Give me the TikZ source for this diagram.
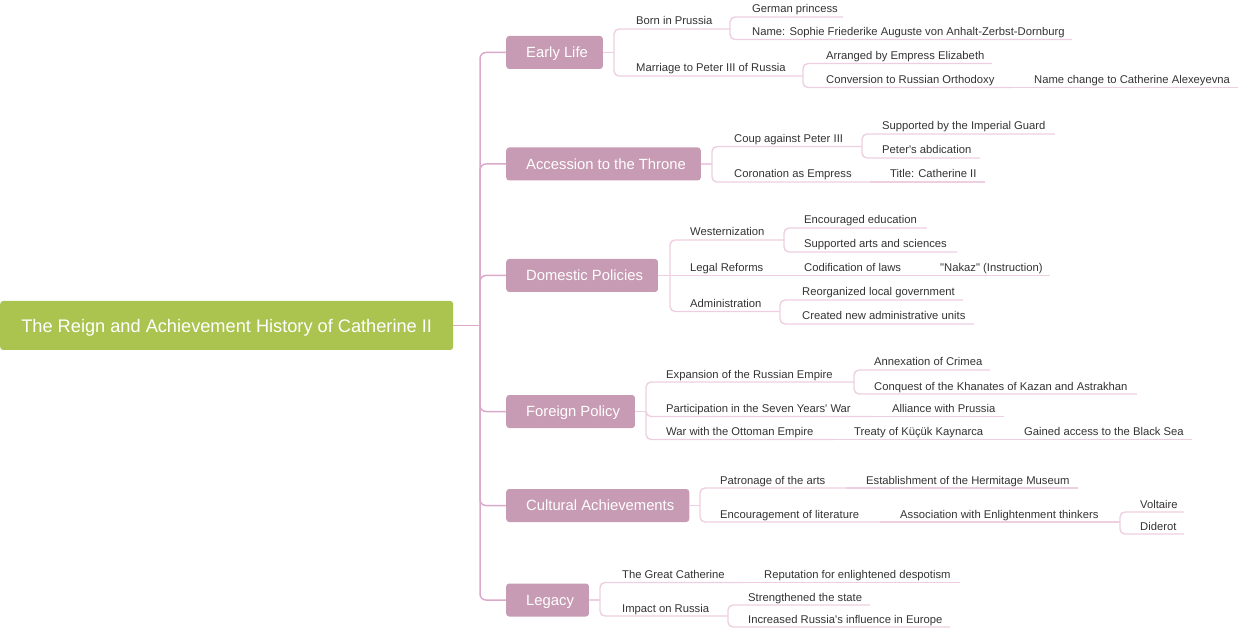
\documentclass[tikz,border=0pt]{standalone}
\usepackage{fontspec}
\newfontfamily\mf{Liberation Sans}
\definecolor{rootgreen}{HTML}{AAC44F}
\definecolor{boxpink}{HTML}{C79BB3}
\definecolor{trunkpink}{HTML}{DBA9CA}
\definecolor{linepink}{HTML}{EDCFE1}
\definecolor{txt}{HTML}{333333}
\tikzset{
  rootbox/.style={fill=rootgreen, text=white, rounded corners=3pt, anchor=west,
    minimum width=453pt, minimum height=49pt, inner sep=0pt, text depth=0pt,
    font=\mf\fontsize{18.2}{21}\selectfont},
  mainbox/.style={fill=boxpink, text=white, rounded corners=3pt, anchor=west,
    minimum height=33pt, inner xsep=15pt, inner ysep=0pt, text depth=0pt,
    font=\mf\fontsize{14.8}{18}\selectfont},
  leaf/.style={anchor=base west, inner sep=0pt, text=txt, font=\mf\fontsize{11.25}{13}\selectfont},
  trunk/.style={draw=trunkpink, line width=1.5pt, rounded corners=6pt},
  leafline/.style={draw=linepink, line width=1.4pt, rounded corners=5pt},
}
\newcommand\bx[1]{\hspace*{5pt}#1}
\newcommand\leafnode[6]{%
  \node[leaf] (#1) at (#3,#4-4) {#6};
  \coordinate (#1-end) at (#5,#4);
  \draw[leafline] (#2) |- (#1-end);
}
\newcommand\chainnode[6]{%
  \node[leaf] (#1) at (#3,#4-4) {#6};
  \coordinate (#1-end) at (#5,#4);
  \draw[leafline] (#2) -- (#1-end);
}
\begin{document}
\begin{tikzpicture}[x=1pt,y=-1pt]
\useasboundingbox (0,0) rectangle (1240,628);
% root
\node[rootbox] (root) at (0,325.5) {The Reign and Achievement History of Catherine II};
\coordinate (jroot) at (480,325.5);
\draw[trunk] (root.east) -- (jroot);
% main branches
\node[mainbox] (el) at (506,52.5) {\bx{Early Life}};
\node[mainbox] (acc) at (506,164) {\bx{Accession to the Throne}};
\node[mainbox] (dom) at (506,275.5) {\bx{Domestic Policies}};
\node[mainbox] (for) at (506,411.5) {\bx{Foreign Policy}};
\node[mainbox] (cul) at (506,505.5) {\bx{Cultural Achievements}};
\node[mainbox] (leg) at (506,600) {\bx{Legacy}};
\foreach \b in {el,acc,dom,for,cul,leg} \draw[trunk] (jroot) |- (\b.west);
% Early Life
\coordinate (jel) at (614,52.5);
\draw[leafline] (el.east) -- (jel);
\leafnode{born}{jel}{636}{29}{730}{Born in Prussia}
\coordinate (jborn) at (730,29);
\leafnode{ger}{jborn}{752}{17}{843}{German princess}
\leafnode{name}{jborn}{752}{39.5}{1072}{Name: Sophie Friederike Auguste von Anhalt-Zerbst-Dornburg}
\leafnode{marr}{jel}{636}{76}{803}{Marriage to Peter III of Russia}
\coordinate (jmarr) at (803,76);
\leafnode{arr}{jmarr}{826}{63.5}{992}{Arranged by Empress Elizabeth}
\leafnode{conv}{jmarr}{826}{87.5}{1012}{Conversion to Russian Orthodoxy}
\chainnode{namech}{conv-end}{1034}{87.5}{1238}{Name change to Catherine Alexeyevna}
% Accession
\coordinate (jacc) at (712,164);
\draw[leafline] (acc.east) -- (jacc);
\leafnode{coup}{jacc}{734}{146.5}{862}{Coup against Peter III}
\coordinate (jcoup) at (862,146.5);
\leafnode{sup}{jcoup}{882}{134}{1055}{Supported by the Imperial Guard}
\leafnode{abd}{jcoup}{882}{158}{980}{Peter's abdication}
\leafnode{cor}{jacc}{734}{182}{870}{Coronation as Empress}
\chainnode{title}{cor-end}{890}{182}{985}{Title: Catherine II}
% Domestic
\coordinate (jdom) at (670,275.5);
\draw[leafline] (dom.east) -- (jdom);
\leafnode{west}{jdom}{690}{240}{784}{Westernization}
\coordinate (jwest) at (784,240);
\leafnode{edu}{jwest}{804}{228}{927}{Encouraged education}
\leafnode{arts}{jwest}{804}{252}{957}{Supported arts and sciences}
\chainnode{legal}{jdom}{690}{275.5}{784}{Legal Reforms}
\chainnode{cod}{legal-end}{804}{275.5}{920}{Codification of laws}
\chainnode{nakaz}{cod-end}{940}{275.5}{1050}{"Nakaz" (Instruction)}
\leafnode{adm}{jdom}{690}{311.5}{780}{Administration}
\coordinate (jadm) at (780,311.5);
\leafnode{reorg}{jadm}{802}{300}{963}{Reorganized local government}
\leafnode{created}{jadm}{802}{324}{974}{Created new administrative units}
% Foreign
\coordinate (jfor) at (646,411.5);
\draw[leafline] (for.east) -- (jfor);
\leafnode{exp}{jfor}{666}{382}{854}{Expansion of the Russian Empire}
\coordinate (jexp) at (854,382);
\leafnode{crim}{jexp}{874}{370}{990}{Annexation of Crimea}
\leafnode{conq}{jexp}{874}{394}{1137}{Conquest of the Khanates of Kazan and Astrakhan}
\leafnode{sev}{jfor}{666}{416.5}{872}{Participation in the Seven Years' War}
\chainnode{alli}{sev-end}{892}{416.5}{1004}{Alliance with Prussia}
\leafnode{ott}{jfor}{666}{439.5}{834}{War with the Ottoman Empire}
\chainnode{treaty}{ott-end}{854}{439.5}{1004}{Treaty of Küçük Kaynarca}
\chainnode{black}{treaty-end}{1024}{439.5}{1192}{Gained access to the Black Sea}
% Cultural
\coordinate (jcul) at (700,505.5);
\draw[leafline] (cul.east) -- (jcul);
\leafnode{pat}{jcul}{720}{488}{846}{Patronage of the arts}
\chainnode{herm}{pat-end}{866}{488}{1078}{Establishment of the Hermitage Museum}
\leafnode{enc}{jcul}{720}{522}{880}{Encouragement of literature}
\chainnode{assoc}{enc-end}{900}{522}{1120}{Association with Enlightenment thinkers}
\coordinate (jassoc) at (1120,522);
\leafnode{volt}{jassoc}{1140}{512}{1184}{Voltaire}
\leafnode{did}{jassoc}{1140}{534}{1184}{Diderot}
% Legacy
\coordinate (jleg) at (600,600);
\draw[leafline] (leg.east) -- (jleg);
\leafnode{great}{jleg}{622}{582.5}{744}{The Great Catherine}
\chainnode{rep}{great-end}{764}{582.5}{960}{Reputation for enlightened despotism}
\leafnode{imp}{jleg}{622}{616}{728}{Impact on Russia}
\coordinate (jimp) at (728,616);
\leafnode{stren}{jimp}{748}{605}{870}{Strengthened the state}
\leafnode{inc}{jimp}{748}{627}{950}{Increased Russia's influence in Europe}
\end{tikzpicture}
\end{document}
